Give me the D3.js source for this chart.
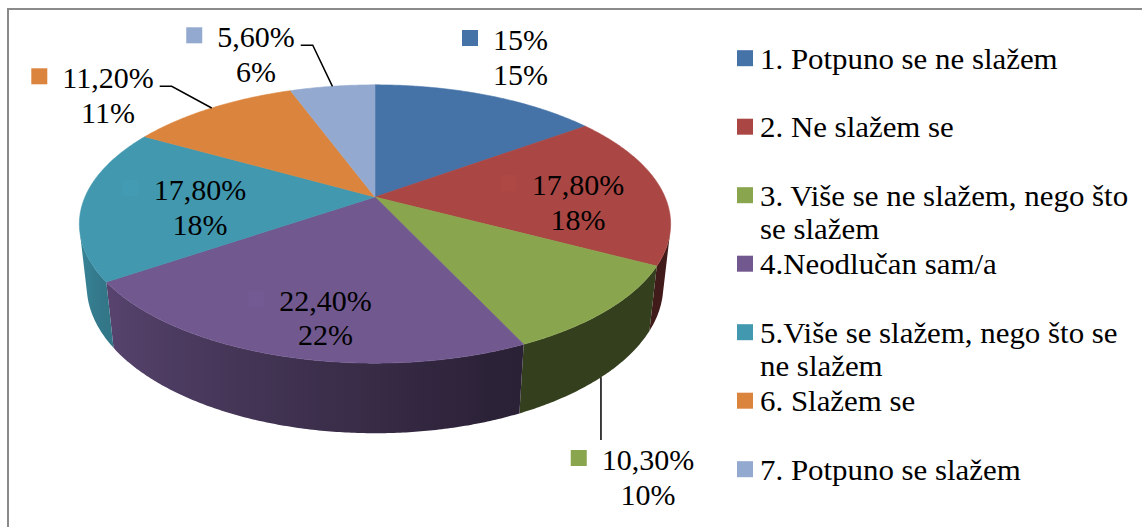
<!DOCTYPE html>
<html>
<head>
<meta charset="utf-8">
<script src="https://cdn.jsdelivr.net/npm/d3@7"></script>
<style>
  html, body { margin: 0; padding: 0; background: #ffffff; }
  svg { display: block; }
  text { font-family: "Liberation Serif", "Times New Roman", serif; fill: #000; }
</style>
</head>
<body>
<svg id="chart" width="1142" height="527"></svg>
<script>
// ---- data ----
const categories = [
  "1. Potpuno se ne slažem",
  "2. Ne slažem se",
  "3. Više se ne slažem, nego što se slažem",
  "4.Neodlučan sam/a",
  "5.Više se slažem, nego što se ne slažem",
  "6. Slažem se",
  "7. Potpuno se slažem"
];
const values = [15, 17.8, 10.3, 22.4, 17.8, 11.2, 5.6];
const colors = ["#4572A7", "#AA4643", "#89A54E", "#71588F", "#4198AF", "#DB843D", "#93A9CF"];

// ---- layout ----
const W = 1142, H = 527;
const cx = 375, cy = 197;           // projected pie centre
const radiusPx = 290;               // focal scale of the unit disc
const tilt = 27.5 * Math.PI / 180;  // camera elevation
const camDist = 4.57;               // camera distance in radii
const thickness = 0.242;            // pie height in radii
const fontSize = 30;
const lineGap = 34.5;

// data label anchors: centre x and first-line baseline
const labelAnchors = [[520.5, 50], [578, 195], [648, 470], [325.5, 310.7], [200, 200], [108, 88.3], [256, 47.3]];
const leaderKinds = ["none", "none", "down", "none", "none", "side", "side"];

const legendX = 737, legendTop = 68.5, legendStep = 68.5, legendWrap = 372, legendStretch = 1.03;

const svg = d3.select("#chart");

// chart-area frame (top and left edges)
svg.append("path")
  .attr("d", `M8,${H} L8,9 L${W},9`)
  .attr("fill", "none")
  .attr("stroke", "#8a8a8a")
  .attr("stroke-width", 2);

// perspective projection of a point on the disc rim (theta clockwise from back) at height y
function project(theta, y, r = 1) {
  const X = r * Math.sin(theta), Z = -r * Math.cos(theta);
  const toward = Z * Math.cos(tilt) + y * Math.sin(tilt);
  const up = y * Math.cos(tilt) - Z * Math.sin(tilt);
  const s = camDist / (camDist - toward);
  return [cx + radiusPx * X * s, cy - radiusPx * up * s];
}

const total = d3.sum(values);
const arcs = d3.pie().sort(null).value(d => d)(values);

// visible part of the outer wall
const visA = Math.acos(-1 / (camDist * Math.cos(tilt)));
const visB = 2 * Math.PI - visA;

function shadeFactor(theta) {
  const deg = theta * 180 / Math.PI;
  const t = Math.max(0, Math.min(1, (deg - 160) / 95));
  return 0.38 + 0.5 * t;
}
function shade(color, k) {
  const c = d3.rgb(color);
  return d3.rgb(c.r * k, c.g * k, c.b * k).formatHex();
}
function arcPoints(a0, a1, y) {
  const n = Math.max(2, Math.ceil((a1 - a0) / (Math.PI / 360)));
  return d3.range(n + 1).map(i => project(a0 + (a1 - a0) * i / n, y));
}

const defs = svg.append("defs");
const line = d3.line();
const pie = svg.append("g");

// outer walls
arcs.forEach((a, i) => {
  const a0 = Math.max(a.startAngle, visA), a1 = Math.min(a.endAngle, visB);
  if (a1 <= a0) return;
  const x1 = project(a0, 0)[0], x2 = project(a1, 0)[0];
  const grad = defs.append("linearGradient")
    .attr("id", "wall" + i)
    .attr("gradientUnits", "userSpaceOnUse")
    .attr("x1", x1).attr("x2", x2).attr("y1", 0).attr("y2", 0);
  d3.range(13).forEach(j => {
    const th = a0 + (a1 - a0) * j / 12;
    const px = project(th, 0)[0];
    grad.append("stop")
      .attr("offset", (px - x1) / (x2 - x1))
      .attr("stop-color", shade(colors[i], shadeFactor(th)));
  });
  const pts = arcPoints(a0, a1, 0).concat(arcPoints(a0, a1, -thickness).reverse());
  pie.append("path")
    .attr("d", line(pts) + "Z")
    .attr("fill", `url(#wall${i})`);
});

// top faces
arcs.forEach((a, i) => {
  const pts = [[cx, cy]].concat(arcPoints(a.startAngle, a.endAngle, 0));
  pie.append("path")
    .attr("d", line(pts) + "Z")
    .attr("fill", colors[i])
    .attr("stroke", colors[i])
    .attr("stroke-width", 0.6)
    .attr("stroke-linejoin", "round");
});

// data labels
const fmtValue = v => Number.isInteger(v) ? v + "%" : v.toFixed(2).replace(".", ",") + "%";
const fmtPct = v => Math.round(v / total * 100) + "%";
const labels = svg.append("g");

arcs.forEach((a, i) => {
  const [lx, ly] = labelAnchors[i];
  const g = labels.append("g");
  const t1 = g.append("text")
    .attr("x", lx).attr("y", ly)
    .attr("text-anchor", "middle")
    .attr("font-size", fontSize)
    .text(fmtValue(values[i]));
  g.append("text")
    .attr("x", lx).attr("y", ly + lineGap)
    .attr("text-anchor", "middle")
    .attr("font-size", fontSize)
    .text(fmtPct(values[i]));
  const w = t1.node().getComputedTextLength();
  g.insert("rect", "text")
    .attr("x", lx - w / 2 - 15 - 16)
    .attr("y", ly - 20)
    .attr("width", 16).attr("height", 16)
    .attr("fill", leaderKinds[i] === "none" && i !== 0 ? d3.rgb(colors[i]).brighter(0.06) : colors[i]);

  const mid = (a.startAngle + a.endAngle) / 2;
  if (leaderKinds[i] === "side") {
    const sx = lx + w / 2 + 6, sy = ly - 2;
    const rim = project(mid, 0);
    labels.append("path")
      .attr("d", line([[sx, sy], [sx + 12, sy], rim]))
      .attr("fill", "none").attr("stroke", "#000").attr("stroke-width", 1.5);
  } else if (leaderKinds[i] === "down") {
    const rim = project(mid, -thickness);
    labels.append("path")
      .attr("d", line([rim, [rim[0], ly - 30]]))
      .attr("fill", "none").attr("stroke", "#000").attr("stroke-width", 1.5);
  }
});

// legend
const legend = svg.append("g");
categories.forEach((name, i) => {
  const by = legendTop + i * legendStep;
  legend.append("rect")
    .attr("x", legendX).attr("y", by - 18.3)
    .attr("width", 16).attr("height", 16)
    .attr("fill", colors[i]);
  const txt = legend.append("g")
    .attr("transform", `translate(${legendX + 23},${by}) scale(${legendStretch},1)`)
    .append("text")
    .attr("font-size", fontSize);
  // wrap words to the legend width
  const words = name.split(" ");
  let lineWords = [], row = 0;
  let tspan = txt.append("tspan").attr("x", 0).attr("y", 0);
  words.forEach(word => {
    lineWords.push(word);
    tspan.text(lineWords.join(" "));
    if (tspan.node().getComputedTextLength() * legendStretch > legendWrap && lineWords.length > 1) {
      lineWords.pop();
      tspan.text(lineWords.join(" "));
      lineWords = [word];
      row += 1;
      tspan = txt.append("tspan").attr("x", 0).attr("y", row * 34).text(word);
    }
  });
});
</script>
</body>
</html>
